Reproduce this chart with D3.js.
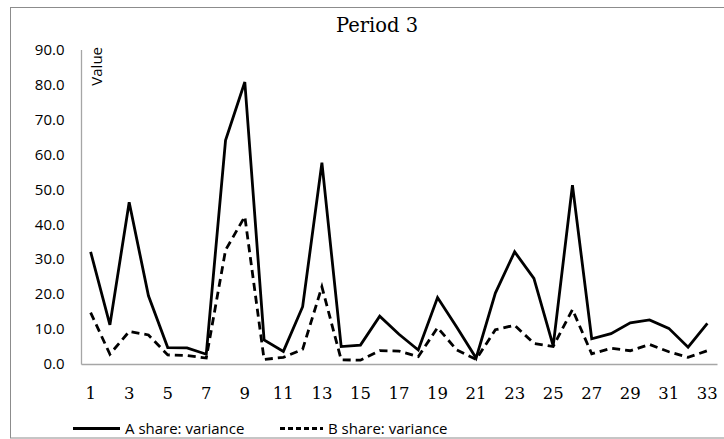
<!DOCTYPE html>
<html><head><meta charset="utf-8">
<script src="https://cdn.jsdelivr.net/npm/d3@7"></script>
<style>body{margin:0;background:#fff}svg{display:block}</style>
</head><body>
<script>
const categories = d3.range(1, 34);
const seriesA = [32.1, 11.2, 46.3, 19.5, 4.7, 4.6, 2.8, 64.0, 80.7, 6.9, 3.6, 16.4, 57.6, 5.0, 5.4, 13.7, 8.5, 4.0, 19.0, 10.5, 1.7, 20.3, 32.1, 24.5, 5.2, 51.2, 7.2, 8.7, 11.8, 12.6, 10.2, 4.8, 11.6];
const seriesB = [14.7, 2.8, 9.3, 8.3, 2.6, 2.4, 1.7, 32.6, 42.2, 1.3, 1.9, 4.2, 22.1, 1.2, 1.1, 3.8, 3.7, 2.1, 10.4, 4.0, 1.3, 9.8, 11.1, 5.9, 5.0, 15.6, 2.9, 4.5, 3.8, 5.6, 3.5, 1.9, 3.8];
const seriesNames = ["A share: variance", "B share: variance"];
const yTicks = [0, 10, 20, 30, 40, 50, 60, 70, 80, 90];
const title = "Period 3";
const yTitle = "Value";

(function () {
const W = 724, H = 439;
const svg = d3.select("body").append("svg").attr("width", W).attr("height", H);

svg.append("rect").attr("x", 10.5).attr("y", 7.5).attr("width", W + 10).attr("height", 430.5)
  .attr("fill", "none").attr("stroke", "#8c8c8c").attr("stroke-width", 1);

const pLeft = 81, pRight = 717, pTop = 49.5, pBottom = 364;
const x = d3.scaleBand().domain(categories).range([pLeft, pRight]);
const y = d3.scaleLinear().domain([0, 90]).range([pBottom, pTop]);
const cx = d => x(d) + x.bandwidth() / 2;

svg.append("text").attr("x", 377).attr("y", 32).attr("text-anchor", "middle")
  .attr("font-family", "DejaVu Serif").attr("font-size", 19.5).attr("fill", "#000").text(title);

const yAxis = svg.append("g").attr("transform", `translate(${pLeft},0)`)
  .call(d3.axisLeft(y).tickValues(yTicks).tickFormat(d3.format(".1f")).tickSize(0).tickPadding(16.5));
yAxis.select(".domain").attr("stroke", "#a6a6a6").attr("stroke-width", 1.3);
yAxis.selectAll("text").attr("font-family", "Open Sans").attr("font-size", 15).attr("fill", "#000");

const xAxis = svg.append("g").attr("transform", `translate(0,${pBottom})`)
  .call(d3.axisBottom(x).tickValues(categories.filter(d => d % 2 === 1)).tickSize(0).tickPadding(23));
xAxis.select(".domain").attr("stroke", "#a6a6a6").attr("stroke-width", 1.3);
xAxis.selectAll("text").attr("font-family", "DejaVu Serif").attr("font-size", 16.5).attr("fill", "#000");

svg.append("text").attr("transform", `translate(102,47) rotate(-90)`).attr("text-anchor", "end")
  .attr("font-family", "Open Sans").attr("font-size", 15).attr("fill", "#000").text(yTitle);

const line = d3.line().x((d, i) => cx(categories[i])).y(d => y(d));
svg.append("path").datum(seriesA).attr("d", line).attr("fill", "none").attr("stroke", "#000")
  .attr("stroke-width", 2.8).attr("stroke-linejoin", "miter");
svg.append("path").datum(seriesB).attr("d", line).attr("fill", "none").attr("stroke", "#000")
  .attr("stroke-width", 2.8).attr("stroke-dasharray", "8,5");

const ly = 428.5;
svg.append("line").attr("x1", 73).attr("x2", 120).attr("y1", ly).attr("y2", ly).attr("stroke", "#000").attr("stroke-width", 2.8);
svg.append("text").attr("x", 125).attr("y", ly + 5.5).attr("font-family", "Open Sans").attr("font-size", 15).attr("fill", "#000").text(seriesNames[0]);
svg.append("line").attr("x1", 280).attr("x2", 323).attr("y1", ly).attr("y2", ly).attr("stroke", "#000").attr("stroke-width", 2.8).attr("stroke-dasharray", "5,3");
svg.append("text").attr("x", 328).attr("y", ly + 5.5).attr("font-family", "Open Sans").attr("font-size", 15).attr("fill", "#000").text(seriesNames[1]);
})();
</script>
</body></html>
